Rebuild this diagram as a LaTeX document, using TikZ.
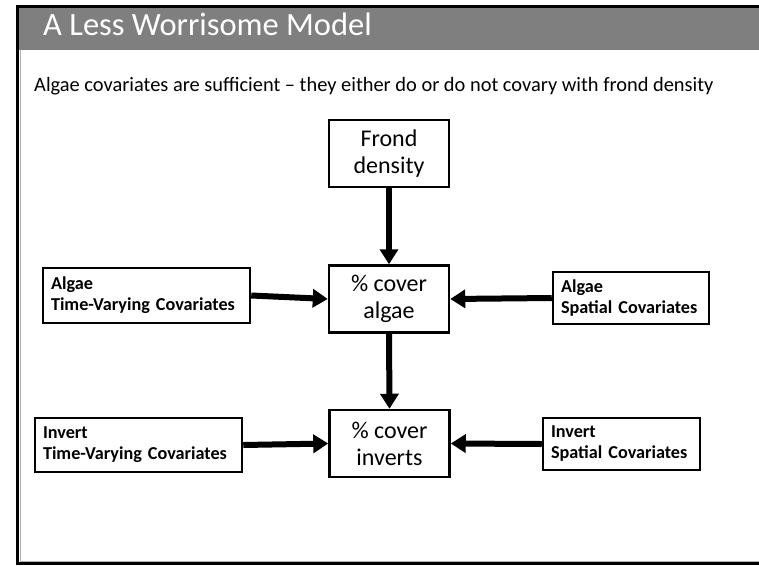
\documentclass[tikz,border=0pt]{standalone}
\usepackage{fontspec}
\setmainfont{Carlito}
\usetikzlibrary{arrows.meta}
\definecolor{headgray}{HTML}{7F7F7F}
\begin{document}
\begin{tikzpicture}[x=1pt,y=-1pt,
  box/.style={draw=black, line width=2.5pt, fill=white, inner sep=0pt},
  cover/.style={box, minimum width=120pt, minimum height=67pt, align=center,
    font=\fontsize{24}{27}\selectfont},
  covbox/.style={box, align=left, inner xsep=8pt,
    font=\bfseries\fontsize{18.2}{21}\selectfont},
  link/.style={line width=6pt, -{Triangle[width=18pt,length=15pt]}}]
\useasboundingbox (0,0) rectangle (759,565);
\fill[white] (0,0) rectangle (759,565);
% slide frame and title bar
\fill[headgray] (18,7) rectangle (759,50);
\draw[black, line width=3pt] (18,6) -- (759,6);
\draw[black, line width=3pt] (17.5,4.5) -- (17.5,565);
\draw[black, line width=3pt] (16,563.5) -- (759,563.5);
\draw[gray!60, line width=1pt] (20,50) -- (20,561.5) -- (759,561.5);
\node[anchor=base west, text=white, inner sep=0pt, font=\fontsize{32.5}{36}\selectfont]
  (title) at (43,35) {A Less Worrisome Model};
\node[anchor=base west, inner sep=0pt, font=\fontsize{20.4}{24}\selectfont]
  (subtitle) at (34,91) {Algae covariates are sufficient -- they either do or do not covary with frond density};
% central chain
\node[cover] (frond) at (389,153.5) {Frond\\density};
\node[cover] (algae) at (389,299) {\% cover\\algae};
\node[cover] (inverts) at (389.5,443.5) {\% cover\\inverts};
% covariate boxes
\node[covbox, text width=191pt, minimum height=55pt] (atv) at (146.5,295.5)
  {Algae\\Time-Varying Covariates};
\node[covbox, text width=140pt, minimum height=52pt] (asp) at (631,298)
  {Algae\\Spatial Covariates};
\node[covbox, text width=191pt, minimum height=54pt] (itv) at (138.5,445)
  {Invert\\Time-Varying Covariates};
\node[covbox, text width=141pt, minimum height=52pt] (isp) at (621.5,444)
  {Invert\\Spatial Covariates};
% connectors
\draw[link] (frond.south) -- (algae.north);
\draw[link] (algae.south) -- (inverts.north);
\draw[link] (atv.east) -- (algae.west);
\draw[link] (asp.west) -- (algae.east);
\draw[link] (itv.east) -- (inverts.west);
\draw[link] (isp.west) -- (inverts.east);
\end{tikzpicture}
\end{document}
